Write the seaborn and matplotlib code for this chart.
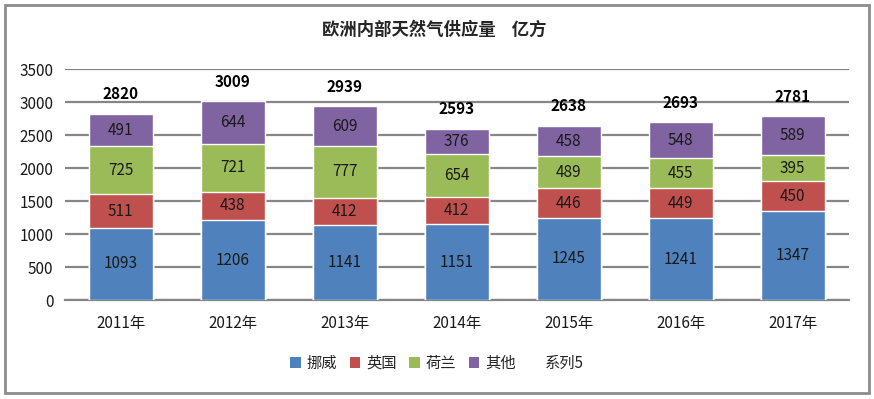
import numpy as np
import pandas as pd
import matplotlib
matplotlib.use("Agg")
import matplotlib.pyplot as plt
import seaborn as sns
from matplotlib.patches import Patch

years = ['2011年', '2012年', '2013年', '2014年', '2015年', '2016年', '2017年']
norway = [1093, 1206, 1141, 1151, 1245, 1241, 1347]
uk = [511, 438, 412, 412, 446, 449, 450]
netherlands = [725, 721, 777, 654, 489, 455, 395]
others = [491, 644, 609, 376, 458, 548, 589]
totals = [2820, 3009, 2939, 2593, 2638, 2693, 2781]

names = ['挪威', '英国', '荷兰', '其他']
colors = ['#4F81BD', '#C0504D', '#9BBB59', '#8064A2']

sns.set_style("white")
plt.rcParams['font.family'] = ['Noto Sans CJK SC', 'DejaVu Sans']

series = [norway, uk, netherlands, others]
df = pd.DataFrame({'year': years})
for n, s in zip(names, series):
    df[n] = s
# cumulative tops, drawn from the tallest layer down so they overlap into a stack
cum = df[names].cumsum(axis=1)

fig = plt.figure(figsize=(8.74, 3.99), dpi=100)
ax = fig.add_axes([0.074, 0.248, 0.897, 0.579])

for n, c in reversed(list(zip(names, colors))):
    sns.barplot(x=df['year'], y=cum[n], color=c, width=0.57, ax=ax,
                saturation=1, zorder=3)

# segment labels
for i in range(len(years)):
    bottom = 0
    for s in series:
        ax.text(i, bottom + s[i] / 2, str(s[i]), ha='center', va='center',
                fontsize=11, color='#1a1a1a', zorder=4)
        bottom += s[i]
    ax.annotate(str(totals[i]), (i, totals[i]), xytext=(0, 14),
                textcoords='offset points', ha='center', va='center',
                fontsize=11, fontweight='bold', color='black')

ax.set_xlim(-0.5, 6.5)
ax.set_ylim(0, 3500)
ax.set_yticks(np.arange(0, 3501, 500))
ax.yaxis.grid(True, color='#868686', linewidth=1.6, zorder=0)
ax.set_axisbelow(True)
for side in ['left', 'right', 'top']:
    ax.spines[side].set_visible(False)
ax.spines['bottom'].set_color('#868686')
ax.spines['bottom'].set_linewidth(1.6)
ax.set_xlabel('')
ax.set_ylabel('')
ax.tick_params(axis='both', length=0, labelsize=11, colors='#1a1a1a')
ax.tick_params(axis='y', pad=8)
ax.tick_params(axis='x', pad=11)

fig.text(0.497, 0.925, '欧洲内部天然气供应量    亿方', ha='center', va='center',
         fontsize=12.5, fontweight='bold')

handles = [Patch(facecolor=c, edgecolor='none') for c in colors]
handles.append(Patch(facecolor='none', edgecolor='none'))
fig.legend(handles, names + ['系列5'], loc='center', bbox_to_anchor=(0.5, 0.09),
           ncol=5, frameon=False, fontsize=11, handlelength=0.7,
           handleheight=0.7, handletextpad=0.4, columnspacing=0.8)

fig.patches.append(plt.Rectangle((0.006, 0.015), 0.988, 0.972, transform=fig.transFigure,
                                 fill=False, edgecolor='#8c8c8c', linewidth=2))

fig.savefig('out.png', dpi=100)
